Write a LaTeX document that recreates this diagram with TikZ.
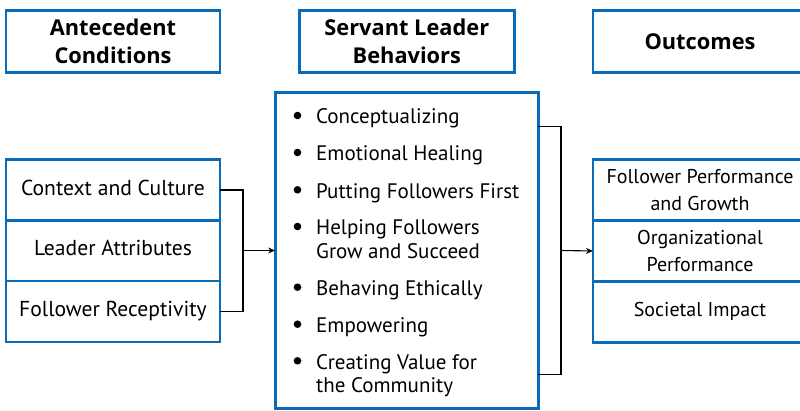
\documentclass[tikz,border=0pt]{standalone}
\usepackage{fontspec}
\setmainfont{PT Sans}
\newfontfamily\headfont{Open Sans}
\usetikzlibrary{arrows.meta}
\definecolor{boxblue}{RGB}{10,108,185}
\begin{document}
\begin{tikzpicture}[x=1pt,y=-1pt,
  bluebox/.style={draw=boxblue, line width=2.8pt, inner sep=0pt, outer sep=0pt, align=center},
  head/.style={bluebox, minimum height=62pt, font=\headfont\bfseries\fontsize{21.8}{27.5}\selectfont},
  cell/.style={bluebox, minimum width=214pt, minimum height=61pt, font=\fontsize{21.6}{26}\selectfont},
  onecell/.style={cell, text height=16pt, text depth=5pt},
  rcell/.style={cell, minimum width=214pt, font=\fontsize{20}{26.7}\selectfont},
  item/.style={anchor=base west, inner sep=0pt, align=left, font=\fontsize{21}{23.4}\selectfont},
  conn/.style={draw=black, line width=1.1pt},
  arr/.style={conn, -{Stealth[length=7pt,width=6pt]}},
  dot/.style={fill=black},
]
\useasboundingbox (0,0) rectangle (800,411);
\clip (0,0) rectangle (800,411);
% headers
\node[head, minimum width=214pt] (hA) at (113,41.5) {Antecedent\\Conditions};
\node[head, minimum width=215pt] (hS) at (406.8,41.5) {Servant Leader\\Behaviors};
\node[head, minimum width=214pt] (hO) at (700,41.5) {Outcomes};
% left stack
\node[onecell] (cc) at (113,190) {Context and Culture};
\node[onecell] (la) at (113,250.5) {Leader Attributes};
\node[onecell] (fr) at (113,311.5) {Follower Receptivity};
% middle box
\node[bluebox, minimum width=263pt, minimum height=316pt] (slb) at (406.6,250.5) {};
% items
\node[item] (i1) at (316,124) {Conceptualizing};
\node[item] (i2) at (316,161) {Emotional Healing};
\node[item] (i3) at (316,198.3) {Putting Followers First};
\node[item] (i4) at (316,258.4) {Helping Followers\\Grow and Succeed};
\node[item] (i5) at (316,295.7) {Behaving Ethically};
\node[item] (i6) at (316,332.7) {Empowering};
\node[item] (i7) at (316,392.7) {Creating Value for\\the Community};
\foreach \yy in {124,161,198.3,235,295.7,332.7,369.3}
  \fill[dot] (297.5,\yy-8.5) circle (3.8pt);
% right stack
\node[rcell] (fp) at (700,190) {Follower Performance\\and Growth};
\node[rcell] (op) at (700,251) {Organizational\\Performance};
\node[rcell, text height=15pt, text depth=5pt] (si) at (700,312) {Societal Impact};
% connectors
\coordinate (jl) at (243,250.5);
\coordinate (jr) at (561,250.5);
\draw[conn] (cc.east) -| (jl);
\draw[conn] (fr.east) -| (jl);
\draw[arr] (jl) -- (slb.west);
\draw[conn] ([yshift=-34pt]slb.north east) -| (jr);
\draw[conn] ([yshift=34pt]slb.south east) -| (jr);
\draw[arr] (jr) -- (op.west);
\end{tikzpicture}
\end{document}
